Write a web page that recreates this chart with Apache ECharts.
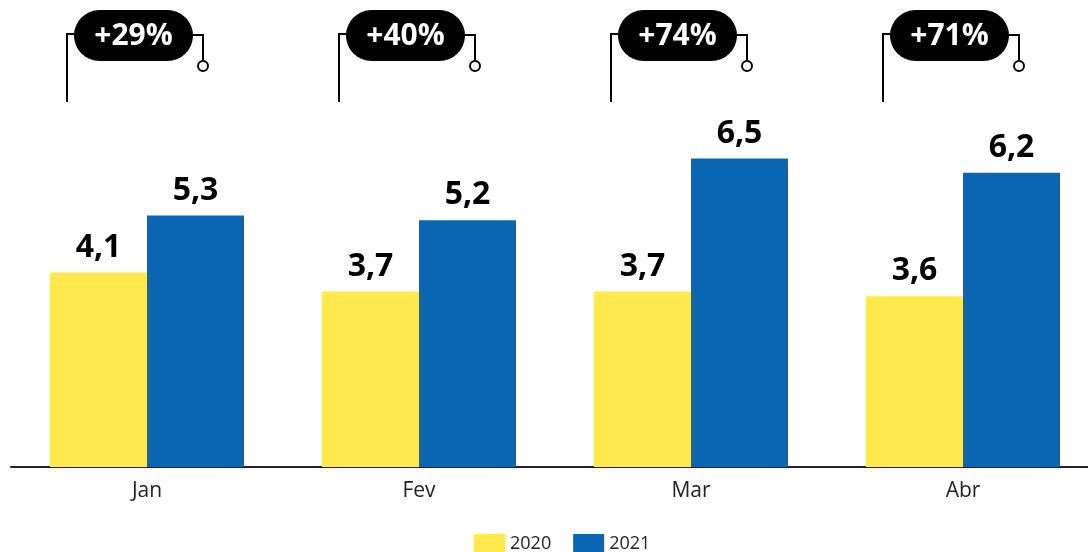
<!DOCTYPE html>
<html>
<head>
<meta charset="utf-8">
<script src="https://cdn.jsdelivr.net/npm/echarts@6/dist/echarts.min.js"></script>
<style>
  html, body { margin: 0; padding: 0; background: #fff; }
  #main { width: 1088px; height: 552px; }
</style>
</head>
<body>
<div id="main"></div>
<script>
var months = ['Jan', 'Fev', 'Mar', 'Abr'];
var v2020 = [4.1, 3.7, 3.7, 3.6];
var v2021 = [5.3, 5.2, 6.5, 6.2];
var growth = ['+29%', '+40%', '+74%', '+71%'];

var font = 'Open Sans';
var chart = echarts.init(document.getElementById('main'));

function fmt(p) {
    return String(p.value).replace('.', ',');
}

var option = {
    animation: false,
    grid: { left: 11, top: 40, width: 1088, height: 427, outerBoundsMode: 'none' },
    legend: {
        data: ['2020', '2021'],
        left: 469,
        top: 529,
        icon: 'rect',
        itemWidth: 31,
        itemHeight: 20,
        itemGap: 22,
        textStyle: { fontFamily: font, fontSize: 18, color: '#222' }
    },
    xAxis: {
        type: 'category',
        data: months,
        axisLine: { lineStyle: { color: '#222', width: 2 } },
        axisTick: { show: false },
        axisLabel: { fontFamily: font, fontSize: 21, color: '#222', margin: 14 }
    },
    yAxis: {
        type: 'value',
        min: 0,
        max: 9,
        show: false,
        splitLine: { show: false }
    },
    series: [
        {
            name: '2020', type: 'bar', data: v2020,
            barWidth: 97, barGap: '0%',
            itemStyle: { color: '#FFE94F' },
            label: { show: true, position: 'top', distance: 9, formatter: fmt,
                fontFamily: font, fontWeight: 'bold', fontSize: 32, color: '#000' }
        },
        {
            name: '2021', type: 'bar', data: v2021,
            barWidth: 97,
            itemStyle: { color: '#0A66B2' },
            label: { show: true, position: 'top', distance: 9, formatter: fmt,
                fontFamily: font, fontWeight: 'bold', fontSize: 32, color: '#000' }
        }
    ]
};
chart.setOption(option);

// badges com a variação por mês
var graphics = [];
for (var i = 0; i < months.length; i++) {
    var cx = chart.convertToPixel({ xAxisIndex: 0 }, months[i]);
    graphics.push(
        { type: 'polyline', shape: { points: [[cx - 73, 34], [cx - 80, 34], [cx - 80, 102]] },
          style: { stroke: '#000', lineWidth: 2, fill: null }, z: 10 },
        { type: 'polyline', shape: { points: [[cx + 46, 35], [cx + 56, 35], [cx + 56, 61]] },
          style: { stroke: '#000', lineWidth: 2, fill: null }, z: 10 },
        { type: 'circle', shape: { cx: cx + 56, cy: 66, r: 5 },
          style: { stroke: '#000', lineWidth: 2, fill: '#fff' }, z: 10 },
        { type: 'rect', shape: { x: cx - 73, y: 10, width: 119, height: 51, r: 25.5 },
          style: { fill: '#000' }, z: 11 },
        { type: 'text', x: cx - 13.5, y: 36, z: 12,
          style: { text: growth[i], fill: '#fff', fontFamily: font, fontWeight: 'bold',
                   fontSize: 30, align: 'center', verticalAlign: 'middle' } }
    );
}
chart.setOption({ graphic: graphics });
</script>
</body>
</html>
